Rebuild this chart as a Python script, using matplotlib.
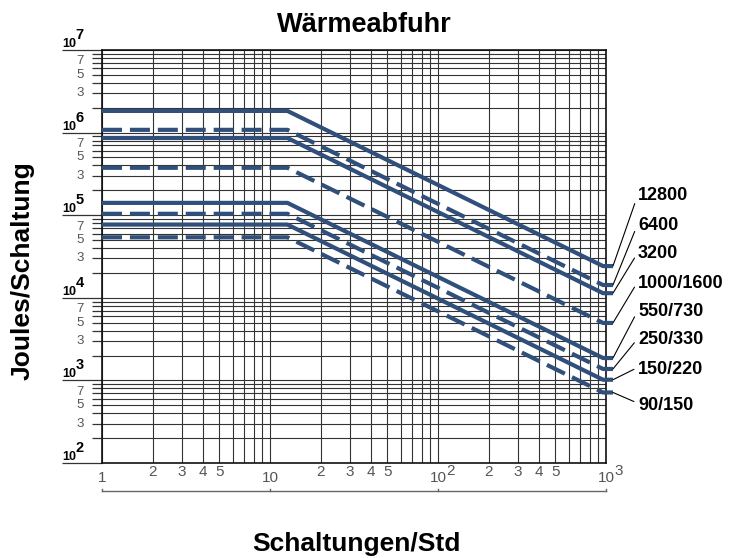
import numpy as np
import matplotlib
matplotlib.use('Agg')
from matplotlib import pyplot as plt
from matplotlib.ticker import LogLocator

plt.rcParams['font.family'] = ['Liberation Sans', 'DejaVu Sans']

# curve data: plateau energy per switching (J) and labels
curve_labels = ['12800', '6400', '3200', '1000/1600', '550/730', '250/330', '150/220', '90/150']
plateau_j = [1.83e6, 1.08e6, 8.6e5, 3.75e5, 1.41e5, 1.04e5, 7.7e4, 5.4e4]
is_dashed = [False, True, False, True, False, True, False, True]
x_break = 12.7     # Schaltungen/Std where the plateau ends
x_end = 960        # end of sloped part
x_stub = 1100      # short flat end piece

# axis tick labels
y_minor_labels = [7, 5, 3]
y_decades = [2, 3, 4, 5, 6, 7]
x_minor_labels = [2, 3, 4, 5]
x_decades = [1, 10, 100]

# label placement (figure pixels from top)
label_y_px = [196, 225, 254, 283, 312, 340, 369, 405]

blue = '#304f7a'
gray = '#555555'
W, H = 738, 558

fig = plt.figure(figsize=(W / 100, H / 100), dpi=100)
ax = fig.add_axes([102 / W, 95 / H, 504 / W, 413 / H])
ax.set_xscale('log')
ax.set_yscale('log')
ax.set_xlim(1, 1000)
ax.set_ylim(1e2, 1e7)
ax.xaxis.set_minor_locator(LogLocator(base=10, subs=np.arange(2, 10)))
ax.yaxis.set_minor_locator(LogLocator(base=10, subs=np.arange(2, 10)))
ax.grid(which='both', color='#333333', lw=0.8)
ax.tick_params(axis='x', which='both', length=0, labelbottom=False)
ax.tick_params(axis='y', which='major', length=28.8, width=0.9, color='#333333', labelleft=False)
ax.tick_params(axis='y', which='minor', length=7.2, width=0.9, color='#333333', labelleft=False)
for s in ax.spines.values():
    s.set_linewidth(1.2)
    s.set_color('#111111')

# curves
for j, lab, d, ly in zip(plateau_j, curve_labels, is_dashed, label_y_px):
    j_end = j * x_break / x_end
    xs = [1, x_break, x_end, x_stub]
    ys = [j, j, j_end, j_end]
    ls = (0, (4.8, 1.9)) if d else '-'
    ax.plot(xs, ys, color=blue, lw=3, ls=ls, clip_on=False,
            solid_capstyle='butt', dash_capstyle='butt', zorder=3)
    ax.annotate(lab, xy=(x_stub, j_end), xycoords='data',
                xytext=(638, H - ly), textcoords='figure pixels',
                ha='left', va='center', fontsize=13, fontweight='bold',
                annotation_clip=False,
                arrowprops=dict(arrowstyle='-', lw=0.8, color='black',
                                shrinkA=1, shrinkB=0, relpos=(0, 0.6)))

# y tick labels
for k in y_decades:
    ax.annotate('10', xy=(0, 10.0 ** k), xycoords=('axes fraction', 'data'),
                xytext=(-28.8, 2.2), textcoords='offset points',
                ha='left', va='baseline', fontsize=9, fontweight='bold')
    ax.annotate(str(k), xy=(0, 10.0 ** k), xycoords=('axes fraction', 'data'),
                xytext=(-19.2, 7.9), textcoords='offset points',
                ha='left', va='baseline', fontsize=10.5, fontweight='bold')
for k in y_decades[:-1]:
    for m in y_minor_labels:
        dy = 1.0 if m == 7 else 0
        ax.annotate(str(m), xy=(0, m * 10.0 ** k), xycoords=('axes fraction', 'data'),
                    xytext=(-15.8, dy), textcoords='offset points',
                    ha='center', va='center', fontsize=9.5, color=gray)

# x tick labels
for x in [1, 10]:
    ax.annotate(str(x), xy=(x, 0), xycoords=('data', 'axes fraction'),
                xytext=(0, -10.8), textcoords='offset points',
                ha='center', va='center', fontsize=11, color=gray)
for x, e in [(100, 2), (1000, 3)]:
    ax.annotate('10', xy=(x, 0), xycoords=('data', 'axes fraction'),
                xytext=(0, -10.8), textcoords='offset points',
                ha='center', va='center', fontsize=11, color=gray)
    ax.annotate(str(e), xy=(x, 0), xycoords=('data', 'axes fraction'),
                xytext=(9, -6.1), textcoords='offset points',
                ha='center', va='center', fontsize=11, color=gray)
for dec in x_decades:
    for m in x_minor_labels:
        ax.annotate(str(m), xy=(m * dec, 0), xycoords=('data', 'axes fraction'),
                    xytext=(0, -6.8), textcoords='offset points',
                    ha='center', va='center', fontsize=11, color=gray)

# bracket under the x axis
tr = ax.get_xaxis_transform()
ax.plot([1, 1000], [-0.068, -0.068], transform=tr, clip_on=False, color='#666666', lw=1)
for x in [1, 10, 100, 1000]:
    ax.plot([x, x], [-0.068, -0.062], transform=tr, clip_on=False, color='#666666', lw=1)

fig.text(364 / W, 1 - 32 / H, 'Wärmeabfuhr', ha='center', va='baseline',
         fontsize=19.5, fontweight='bold')
fig.text(356 / W, 1 - 551 / H, 'Schaltungen/Std', ha='center', va='baseline',
         fontsize=19, fontweight='bold')
fig.text(23 / W, 1 - 271 / H, 'Joules/Schaltung', ha='center', va='center',
         rotation=90, fontsize=19, fontweight='bold')

fig.savefig('out.png', dpi=100)
